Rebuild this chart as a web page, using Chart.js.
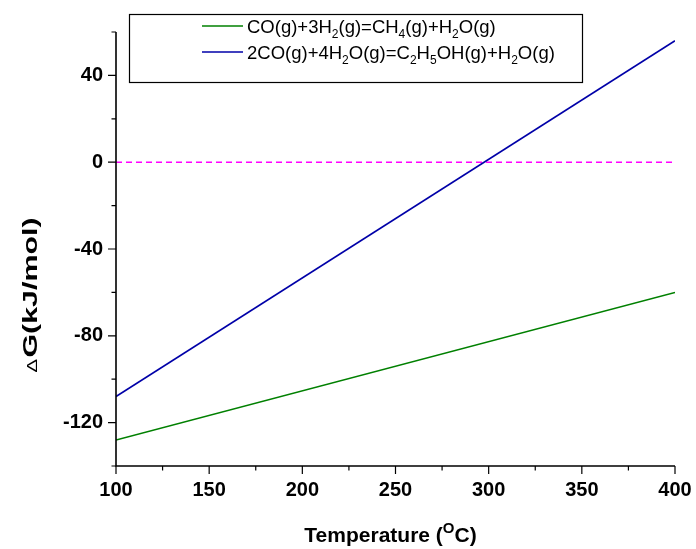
<!DOCTYPE html>
<html>
<head>
<meta charset="utf-8">
<script src="https://cdn.jsdelivr.net/npm/chart.js@4/dist/chart.umd.min.js"></script>
<style>
  html, body { margin: 0; padding: 0; background: #fff; }
  #wrap { width: 696px; height: 549px; }
</style>
</head>
<body>
<div id="wrap"><canvas id="c" width="696" height="549"></canvas></div>
<script>
// Temperature points (°C)
const temps = [100, 400];
// ΔG (kJ/mol) for each reaction at those temperatures
const methanation = [-128, -60];
const ethanolRoute = [-108, 56];
const zeroRef = [0, 0];

// Series labels; "_x" marks a subscript character
const seriesLabels = [
  'CO(g)+3H_2(g)=CH_4(g)+H_2O(g)',
  '2CO(g)+4H_2O(g)=C_2H_5OH(g)+H_2O(g)'
];

// Axis ticks
const xMajor = [100, 150, 200, 250, 300, 350, 400];
const xMinor = [125, 175, 225, 275, 325, 375];
const yMajor = [-120, -80, -40, 0, 40];
const yMinor = [-140, -100, -60, -20, 20, 60];

const FONT = '"Liberation Sans", Arial, sans-serif';

function pts(xs, ys) { return xs.map((x, i) => ({ x: x, y: ys[i] })); }

// Draws text where "_c" renders c as a subscript; returns width
function drawRich(ctx, text, x, y, size) {
  let cx = x;
  for (let i = 0; i < text.length; i++) {
    let ch = text[i];
    let sub = false;
    if (ch === '_' && i + 1 < text.length) { sub = true; ch = text[++i]; }
    ctx.font = (sub ? Math.round(size * 0.66) : size) + 'px ' + FONT;
    ctx.fillText(ch, cx, sub ? y + size * 0.3 : y);
    cx += ctx.measureText(ch).width;
  }
  return cx - x;
}

const axesPlugin = {
  id: 'axesPlugin',
  afterDraw(chart) {
    const ctx = chart.ctx;
    const xs = chart.scales.x, ys = chart.scales.y;
    const a = chart.chartArea;
    ctx.save();
    ctx.strokeStyle = '#000';
    ctx.lineWidth = 1.6;
    // axis lines
    ctx.beginPath();
    ctx.moveTo(a.left, a.top);
    ctx.lineTo(a.left, a.bottom);
    ctx.lineTo(a.right, a.bottom);
    ctx.stroke();
    // ticks (outward)
    ctx.lineWidth = 1.2;
    ctx.beginPath();
    xMajor.forEach(v => { const p = xs.getPixelForValue(v); ctx.moveTo(p, a.bottom); ctx.lineTo(p, a.bottom + 8); });
    xMinor.forEach(v => { const p = xs.getPixelForValue(v); ctx.moveTo(p, a.bottom); ctx.lineTo(p, a.bottom + 4.5); });
    yMajor.forEach(v => { const p = ys.getPixelForValue(v); ctx.moveTo(a.left, p); ctx.lineTo(a.left - 8, p); });
    yMinor.forEach(v => { const p = ys.getPixelForValue(v); ctx.moveTo(a.left, p); ctx.lineTo(a.left - 4.5, p); });
    ctx.stroke();

    // x axis title
    ctx.fillStyle = '#000';
    ctx.textBaseline = 'alphabetic';
    const t1 = 'Temperature (', t3 = 'C)';
    ctx.font = 'bold 21px ' + FONT;
    const w1 = ctx.measureText(t1).width, w3 = ctx.measureText(t3).width;
    ctx.font = 'bold 15px ' + FONT;
    const w2 = ctx.measureText('O').width;
    const total = w1 + w2 + w3;
    let sx = (a.left + a.right) / 2 - total / 2 - 5;
    const by = 542;
    ctx.font = 'bold 21px ' + FONT; ctx.fillText(t1, sx, by);
    ctx.font = 'bold 15px ' + FONT; ctx.fillText('O', sx + w1, by - 9);
    ctx.font = 'bold 21px ' + FONT; ctx.fillText(t3, sx + w1 + w2, by);

    // y axis title (rotated)
    ctx.save();
    ctx.translate(37, 295);
    ctx.rotate(-Math.PI / 2);
    ctx.font = '14px ' + FONT;
    const dW = ctx.measureText('\u0394').width;
    ctx.font = 'bold 21px ' + FONT;
    const rest = 'G(kJ/mol)';
    const rW = ctx.measureText(rest).width;
    const stretch = 155 / (dW + rW + 1);
    ctx.scale(stretch, 1);
    let ry = -(dW + rW + 1) / 2;
    ctx.font = '14px ' + FONT; ctx.fillText('\u0394', ry, 0);
    ctx.font = 'bold 21px ' + FONT; ctx.fillText(rest, ry + dW + 1, 0);
    ctx.restore();

    // legend box
    ctx.lineWidth = 1.2;
    ctx.strokeStyle = '#000';
    ctx.strokeRect(129.5, 14.5, 453, 68);
    const rows = [26, 52];
    chart.data.datasets.slice(0, 2).forEach((ds, i) => {
      ctx.strokeStyle = ds.borderColor;
      ctx.lineWidth = 1.5;
      ctx.beginPath();
      ctx.moveTo(202, rows[i]);
      ctx.lineTo(243, rows[i]);
      ctx.stroke();
      ctx.fillStyle = '#000';
      ctx.textBaseline = 'alphabetic';
      drawRich(ctx, seriesLabels[i], 247, rows[i] + 6.5, 18.5);
    });
    ctx.restore();
  }
};

new Chart(document.getElementById('c'), {
  type: 'line',
  data: {
    datasets: [
      { label: seriesLabels[0], data: pts(temps, methanation), borderColor: '#008000', borderWidth: 1.6, pointRadius: 0, tension: 0 },
      { label: seriesLabels[1], data: pts(temps, ethanolRoute), borderColor: '#0000a8', borderWidth: 1.6, pointRadius: 0, tension: 0 },
      { label: 'ref', data: pts(temps, zeroRef), borderColor: '#ff00ff', borderWidth: 1.4, borderDash: [6, 4], pointRadius: 0, tension: 0 }
    ]
  },
  options: {
    responsive: false,
    animation: false,
    events: [],
    layout: { padding: { left: 0, top: 32, right: 21, bottom: 0 } },
    plugins: { legend: { display: false }, tooltip: { enabled: false } },
    scales: {
      x: {
        type: 'linear', min: 100, max: 400,
        afterBuildTicks: s => { s.ticks = xMajor.map(v => ({ value: v })); },
        afterFit: s => { s.height = 83; s.paddingLeft = 0; s.paddingRight = 0; },
        grid: { display: false, drawTicks: false },
        border: { display: false },
        ticks: { color: '#000', padding: 12, maxRotation: 0, font: { family: FONT, size: 20, weight: 'bold' } }
      },
      y: {
        type: 'linear', min: -140, max: 60,
        afterBuildTicks: s => { s.ticks = yMajor.map(v => ({ value: v })); },
        afterFit: s => { s.width = 116; s.paddingTop = 0; s.paddingBottom = 0; },
        grid: { display: false, drawTicks: false },
        border: { display: false },
        ticks: { color: '#000', padding: 13, font: { family: FONT, size: 20, weight: 'bold' } }
      }
    }
  },
  plugins: [axesPlugin]
});
</script>
</body>
</html>
